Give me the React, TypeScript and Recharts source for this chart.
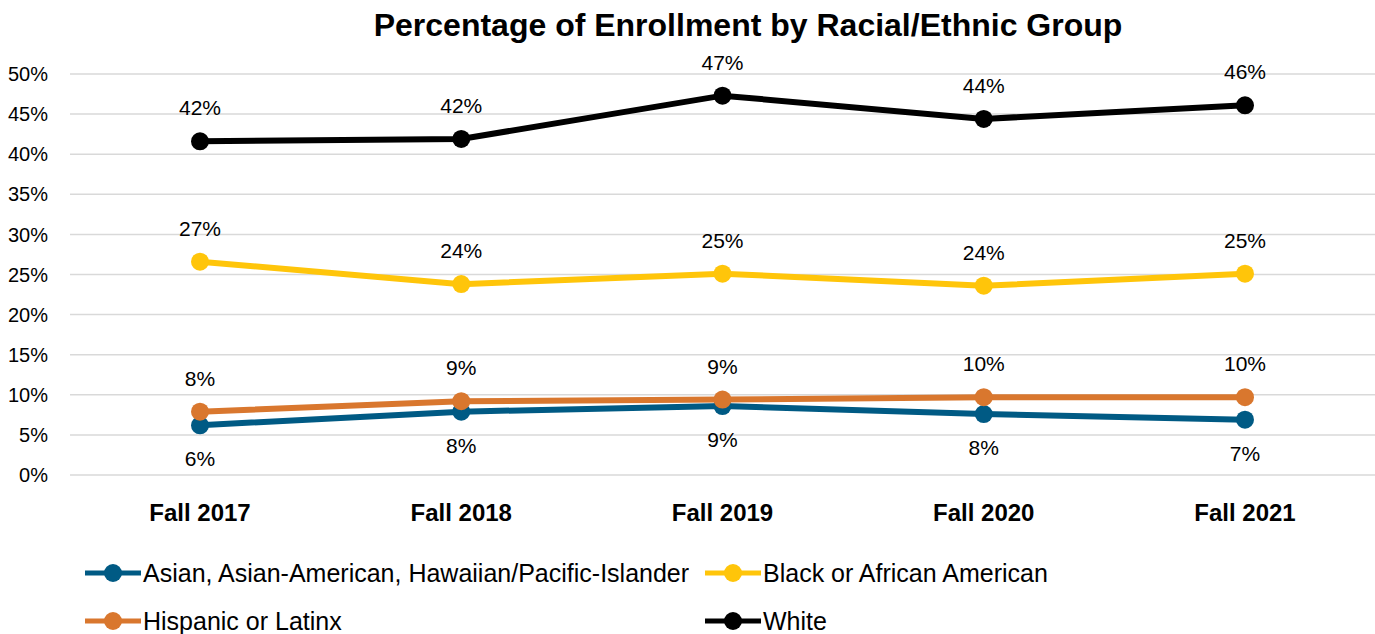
import React from 'react';
import { LineChart, Line, XAxis, YAxis, CartesianGrid, Legend, LabelList } from 'recharts';

const years = ['Fall 2017', 'Fall 2018', 'Fall 2019', 'Fall 2020', 'Fall 2021'];
const asian = [6.2, 7.9, 8.6, 7.6, 6.9];
const black = [26.6, 23.8, 25.1, 23.6, 25.1];
const hispanic = [7.9, 9.2, 9.4, 9.7, 9.7];
const white = [41.6, 41.9, 47.3, 44.4, 46.1];
const yTicks = [0, 5, 10, 15, 20, 25, 30, 35, 40, 45, 50];

const series = [
  { key: 'asian', name: 'Asian, Asian-American, Hawaiian/Pacific-Islander', color: '#005A84', below: true },
  { key: 'black', name: 'Black or African American', color: '#FFC50A', below: false },
  { key: 'hispanic', name: 'Hispanic or Latinx', color: '#D9772E', below: false },
  { key: 'white', name: 'White', color: '#000000', below: false },
];

const data = years.map((year, i) => ({
  year,
  asian: asian[i],
  black: black[i],
  hispanic: hispanic[i],
  white: white[i],
}));

const FONT = '"Liberation Sans", Arial, sans-serif';

function LegendBox() {
  return (
    <div
      style={{
        display: 'grid',
        gridTemplateColumns: '620px 400px',
        gridAutoRows: '32px',
        rowGap: 16,
        paddingLeft: 85,
        fontFamily: FONT,
        fontSize: 25,
        lineHeight: '32px',
        color: '#000',
        height: 77,
        overflow: 'visible',
      }}
    >
      {series.map((s) => (
        <div key={s.key} style={{ display: 'flex', alignItems: 'center', height: 32, whiteSpace: 'nowrap' }}>
          <svg width={56} height={20} style={{ marginRight: 2 }}>
            <line x1={0} y1={10} x2={56} y2={10} stroke={s.color} strokeWidth={5} />
            <circle cx={28} cy={10} r={9} fill={s.color} />
          </svg>
          <span>{s.name}</span>
        </div>
      ))}
    </div>
  );
}

export default function App() {
  return (
    <div style={{ position: 'absolute', left: 0, top: 0, width: 1375, height: 634, background: '#fff' }}>
      <div
        style={{
          position: 'absolute',
          top: 7,
          left: 0,
          width: 1496,
          textAlign: 'center',
          fontFamily: FONT,
          fontWeight: 'bold',
          fontSize: 32,
          color: '#000',
        }}
      >
        Percentage of Enrollment by Racial/Ethnic Group
      </div>
      <LineChart
        width={1375}
        height={634}
        data={data}
        margin={{ top: 74, right: 0, bottom: 0, left: 0 }}
      >
        <CartesianGrid vertical={false} stroke="#D9D9D9" strokeWidth={1.5} />
        <XAxis
          dataKey="year"
          axisLine={false}
          tickLine={false}
          tickSize={0}
          tickMargin={29}
          height={82}
          padding={{ left: 130, right: 130 }}
          tick={{ fontFamily: FONT, fontSize: 24, fontWeight: 'bold', fill: '#000' }}
        />
        <YAxis
          domain={[0, 50]}
          ticks={yTicks}
          width={70}
          axisLine={false}
          tickLine={false}
          tickSize={0}
          tickMargin={22}
          tickFormatter={(v: number) => `${v}%`}
          tick={{ fontFamily: FONT, fontSize: 20, fill: '#000' }}
        />
        <Legend verticalAlign="bottom" content={() => <LegendBox />} />
        {series.map((s) => (
          <Line
            key={s.key}
            dataKey={s.key}
            name={s.name}
            stroke={s.color}
            strokeWidth={6}
            dot={{ r: 9, fill: s.color, stroke: s.color, strokeWidth: 0 }}
            activeDot={false}
            isAnimationActive={false}
          >
            <LabelList
              dataKey={s.key}
              position={s.below ? 'bottom' : 'top'}
              offset={26}
              formatter={(v: number) => `${Math.round(v)}%`}
              style={{ fontFamily: FONT, fontSize: 21, fill: '#000' }}
            />
          </Line>
        ))}
      </LineChart>
    </div>
  );
}
